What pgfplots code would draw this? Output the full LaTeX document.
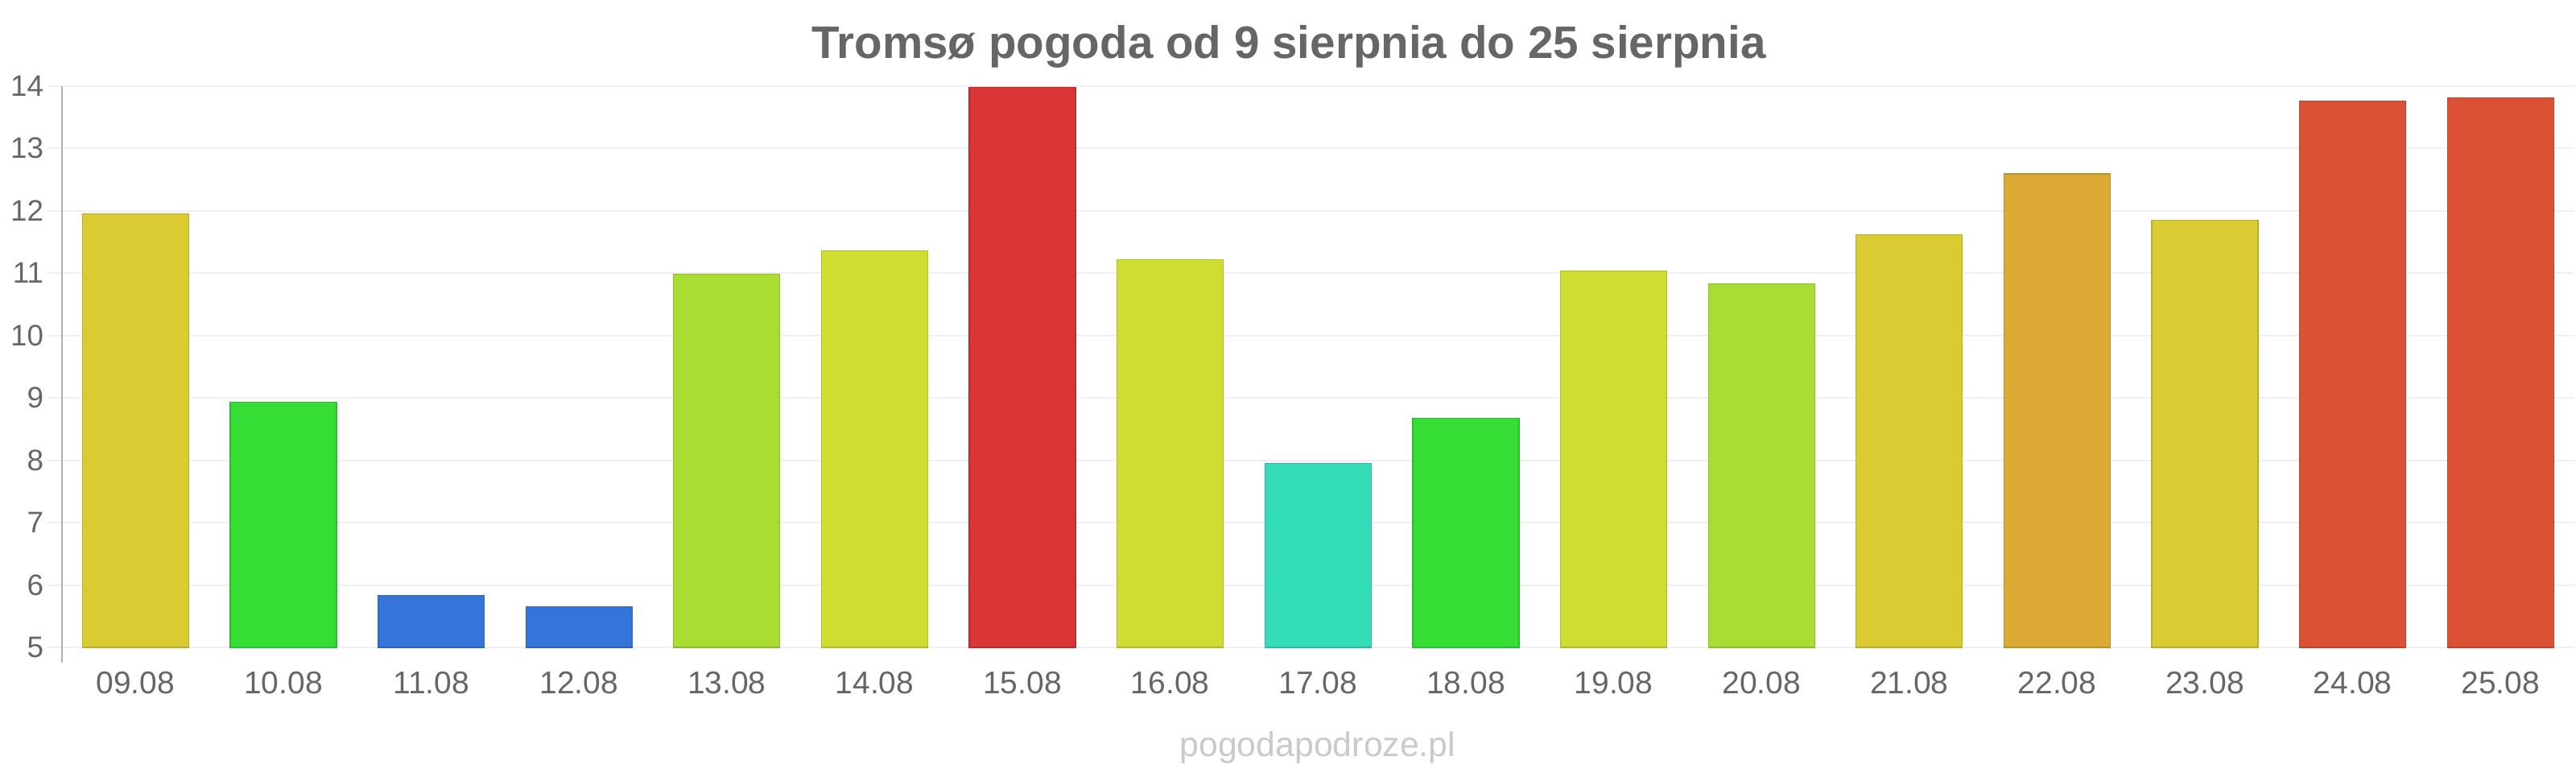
\documentclass[border=0pt]{standalone}
\usepackage{pgfplots}
\pgfplotsset{compat=1.18}
\usepackage{fontspec}
\setmainfont{Liberation Sans}
\definecolor{txt}{HTML}{666666}
\definecolor{grid}{HTML}{F0F0F0}
\definecolor{wm}{HTML}{CACACE}
\definecolor{cY}{HTML}{DBCB33}
\definecolor{cG}{HTML}{35DD35}
\definecolor{cB}{HTML}{3574D9}
\definecolor{cLG}{HTML}{AADD33}
\definecolor{cYG}{HTML}{CFDD33}
\definecolor{cR}{HTML}{DC3535}
\definecolor{cT}{HTML}{33DDB8}
\definecolor{cO}{HTML}{DCA935}
\definecolor{cRO}{HTML}{DC5035}
\begin{document}
\begin{tikzpicture}
\useasboundingbox (-19.125pt,-39pt) rectangle (780.875pt,201pt);
\begin{axis}[
  at={(0pt,0pt)}, anchor=south west,
  scale only axis,
  width=780.4pt, height=174.3pt,
  xmin=-0.5, xmax=16.5,
  ymin=5, ymax=14,
  ybar, bar width=33pt, bar shift=0pt,
  axis x line=none,
  axis y line*=left,
  y axis line style={draw=black!30, line width=0.5pt, shorten <=-4.75pt},
  ytick={5,...,14},
  ymajorgrids,
  major grid style={draw=grid, line width=0.5pt},
  major tick length=4.4pt, tick align=outside,
  ytick style={draw=grid, line width=0.5pt},
  yticklabel style={font=\fontsize{9.2}{10}\selectfont, text=txt, anchor=east, inner sep=0pt, xshift=-1pt},
  /pgf/number format/assume math mode=true,
  clip=false,
]
\addplot[fill=cY, draw=cY!85!black, line width=0.3pt] coordinates {(0,11.95)};
\addplot[fill=cG, draw=cG!85!black, line width=0.3pt] coordinates {(1,8.93)};
\addplot[fill=cB, draw=cB!85!black, line width=0.3pt] coordinates {(2,5.83)};
\addplot[fill=cB, draw=cB!85!black, line width=0.3pt] coordinates {(3,5.65)};
\addplot[fill=cLG, draw=cLG!85!black, line width=0.3pt] coordinates {(4,10.98)};
\addplot[fill=cYG, draw=cYG!85!black, line width=0.3pt] coordinates {(5,11.36)};
\addplot[fill=cR, draw=cR!85!black, line width=0.3pt] coordinates {(6,13.98)};
\addplot[fill=cYG, draw=cYG!85!black, line width=0.3pt] coordinates {(7,11.22)};
\addplot[fill=cT, draw=cT!85!black, line width=0.3pt] coordinates {(8,7.95)};
\addplot[fill=cG, draw=cG!85!black, line width=0.3pt] coordinates {(9,8.67)};
\addplot[fill=cYG, draw=cYG!85!black, line width=0.3pt] coordinates {(10,11.03)};
\addplot[fill=cLG, draw=cLG!85!black, line width=0.3pt] coordinates {(11,10.83)};
\addplot[fill=cY, draw=cY!85!black, line width=0.3pt] coordinates {(12,11.62)};
\addplot[fill=cO, draw=cO!85!black, line width=0.3pt] coordinates {(13,12.59)};
\addplot[fill=cY, draw=cY!85!black, line width=0.3pt] coordinates {(14,11.85)};
\addplot[fill=cRO, draw=cRO!85!black, line width=0.3pt] coordinates {(15,13.76)};
\addplot[fill=cRO, draw=cRO!85!black, line width=0.3pt] coordinates {(16,13.81)};
\foreach \i/\l in {0/09.08,1/10.08,2/11.08,3/12.08,4/13.08,5/14.08,6/15.08,7/16.08,8/17.08,9/18.08,10/19.08,11/20.08,12/21.08,13/22.08,14/23.08,15/24.08,16/25.08}{
  \edef\tmp{\noexpand\node[anchor=base, text=txt, font=\noexpand\fontsize{9.75}{11}\noexpand\selectfont, inner sep=0pt] at (axis cs:\i,5) [yshift=-14.4pt] {\l};}
  \tmp
}
\end{axis}
\node[anchor=base, text=txt, font=\fontsize{14.15}{16}\selectfont\bfseries, inner sep=0pt] at (381.1pt,182.8pt) {Tromsø pogoda od 9 sierpnia do 25 sierpnia};
\node[anchor=base, text=wm, font=\fontsize{10.7}{12}\selectfont, inner sep=0pt] at (390.1pt,-34pt) {pogodapodroze.pl};
\end{tikzpicture}
\end{document}
